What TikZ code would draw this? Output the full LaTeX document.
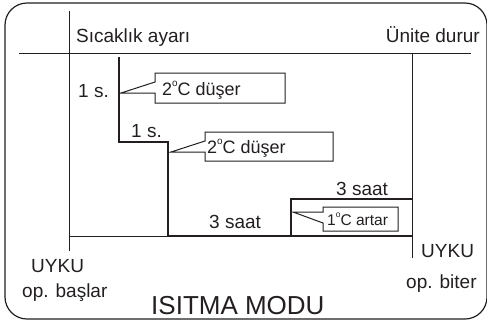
\documentclass[tikz,border=0pt]{standalone}
\usepackage{fontspec}
\setmainfont{Liberation Sans}
\definecolor{ink}{RGB}{35,31,32}
\newcommand\dgr{\raisebox{0.5em}{\fontsize{0.55em}{0.55em}\selectfont o}}
\begin{document}
\begin{tikzpicture}[x=1pt,y=-1pt,
  frameline/.style={draw=ink,line width=1.2pt,rounded corners=22pt},
  axisline/.style={draw=ink,line width=1pt},
  stairline/.style={draw=ink,line width=2.2pt,line join=miter},
  calloutbox/.style={draw=ink,line width=1pt,fill=white,line join=miter},
  lbl/.style={text=ink,font=\fontsize{19}{21}\selectfont,inner sep=0pt},
  clbl/.style={text=ink,font=\fontsize{18}{20}\selectfont,inner sep=0pt,anchor=base west},
  slbl/.style={text=ink,font=\fontsize{15.5}{17}\selectfont,inner sep=0pt,anchor=base west},
  title/.style={text=ink,font=\fontsize{26}{30}\selectfont,inner sep=0pt,anchor=base west}]
\useasboundingbox (0,0) rectangle (487,322);
% frame
\draw[frameline] (5,3) rectangle (487,319);
% coordinates
\coordinate (tl) at (19,53);
\coordinate (tr) at (471,53);
\coordinate (vlt) at (69,11);
\coordinate (vlb) at (69,251);
\coordinate (vrt) at (412,53);
\coordinate (vrb) at (412,258);
\coordinate (bl) at (69,236);
\coordinate (s0) at (119,57);
\coordinate (s1) at (119,142);
\coordinate (s2) at (168,142);
\coordinate (s3) at (168,236);
\coordinate (s4) at (412,236);
\coordinate (r0) at (291,236);
\coordinate (r1) at (291,199);
\coordinate (r2) at (412,199);
% axes
\draw[axisline] (tl) -- (tr);
\draw[axisline] (vlt) -- (vlb);
\draw[axisline] (vrt) -- (vrb);
\draw[axisline] (bl) -- (s3);
% staircase
\draw[stairline] (s0) -- (s1) -- (s2) -- (s3) -- (s4);
\draw[stairline] (r0) -- (r1) -- (r2);
% callouts
\draw[calloutbox] (155,82) -- (155,73) -- (285,73) -- (285,103) -- (155,103) -- (155,93) -- (121,93) -- cycle;
\draw[calloutbox] (205,141) -- (205,132) -- (333,132) -- (333,161) -- (205,161) -- (205,152) -- (171,152) -- cycle;
\draw[calloutbox] (323,212) -- (323,207) -- (398,207) -- (398,231) -- (323,231) -- (323,223) -- (293,212) -- cycle;
\node[clbl] (c1) at (162,95) {2\dgr C düşer};
\node[clbl] (c2) at (207,153) {2\dgr C düşer};
\node[slbl] (c3) at (327,225) {1\dgr C artar};
% labels
\node[lbl,anchor=base west] (set) at (76,42) {Sıcaklık ayarı};
\node[lbl,anchor=base east] (stop) at (480,42) {Ünite durur};
\node[lbl,anchor=base west] (h1) at (78,97) {1 s.};
\node[lbl,anchor=base west] (h2) at (131,137) {1 s.};
\node[lbl,anchor=base west] (t1) at (209,228) {3 saat};
\node[lbl,anchor=base west] (t2) at (336,195) {3 saat};
\node[lbl,anchor=base west] (u1) at (31,272) {UYKU};
\node[lbl,anchor=base west] (o1) at (22,297) {op. başlar};
\node[lbl,anchor=base west] (u2) at (421,257) {UYKU};
\node[lbl,anchor=base west] (o2) at (406,288) {op. biter};
\node[title] (mode) at (151,314) {ISITMA MODU};
\end{tikzpicture}
\end{document}
